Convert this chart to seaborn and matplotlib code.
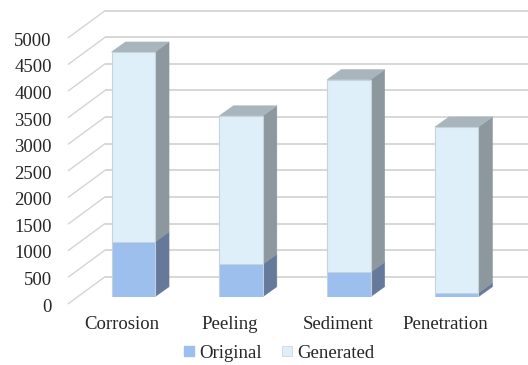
import matplotlib
matplotlib.use("Agg")
import matplotlib.pyplot as plt
from matplotlib.patches import Polygon
from matplotlib.lines import Line2D
from matplotlib.transforms import ScaledTranslation
import numpy as np
import seaborn as sns

# Sample counts per defect class
categories = ["Corrosion", "Peeling", "Sediment", "Penetration"]
original = [1030, 610, 460, 70]
generated = [3570, 2790, 3620, 3120]
y_ticks = list(range(0, 5001, 500))

ORIG_FRONT = "#9DBFEE"
ORIG_SIDE = "#66799B"
GEN_FRONT = "#DEEFF9"
GEN_SIDE = "#8C989E"
TOP = "#A8B5BC"
GRID = "#D4D4D4"
EDGE = "#C8D2D9"

sns.set_theme(style="white")
plt.rcParams["font.family"] = ["Liberation Serif", "DejaVu Serif"]
FS = 13.5

DPI = 100
fig = plt.figure(figsize=(5.28, 3.65), dpi=DPI)
ax = fig.add_axes([79.4 / 528, 68.3 / 365, 431.2 / 528, 266 / 365])
ax.set_xlim(-0.5, 3.5)
ax.set_ylim(0, 5000)

# data units per pixel
PX_X = 4.0 / 431.2
PX_Y = 5000 / 266.0

totals = np.array(original) + np.array(generated)
bar_w = 0.403

sns.barplot(x=categories, y=totals, color=GEN_FRONT, saturation=1, width=bar_w,
            edgecolor=EDGE, linewidth=0.8, ax=ax, zorder=3)
sns.barplot(x=categories, y=original, color=ORIG_FRONT, saturation=1, width=bar_w,
            edgecolor=EDGE, linewidth=0.6, ax=ax, zorder=3)

# depth of the extruded bars
dx, dy = 14 * PX_X, 10 * PX_Y
for patch, orig_v, tot_v in zip(ax.patches[:4], original, totals):
    xl = patch.get_x()
    xr = xl + patch.get_width()
    faces = [
        ([(xr, 0), (xr + dx, dy), (xr + dx, orig_v + dy), (xr, orig_v)], ORIG_SIDE),
        ([(xr, orig_v), (xr + dx, orig_v + dy), (xr + dx, tot_v + dy), (xr, tot_v)], GEN_SIDE),
        ([(xl, tot_v), (xl + dx, tot_v + dy), (xr + dx, tot_v + dy), (xr, tot_v)], TOP),
    ]
    for pts, col in faces:
        ax.add_patch(Polygon(pts, closed=True, facecolor=col, edgecolor=col,
                             linewidth=0.4, zorder=2.5, clip_on=False))

# back wall and side wall grid
back_x0 = -0.5 + (105 - 79.4) * PX_X
back_x1 = -0.5 + (528 - 79.4) * PX_X
front_x = -0.5 + (68.3 - 79.4) * PX_X
back_up = 20 * PX_Y
front_down = 7 * PX_Y
for v in y_ticks:
    ax.plot([back_x0, back_x1], [v + back_up, v + back_up], color=GRID, lw=1.3,
            zorder=1, clip_on=False, solid_capstyle="butt")
    ax.plot([front_x, back_x0], [v - front_down, v + back_up], color=GRID, lw=1.0,
            zorder=1, clip_on=False)

for s in ax.spines.values():
    s.set_visible(False)
ax.set_xlabel("")
ax.set_ylabel("")
ax.set_yticks(y_ticks)
ax.set_yticklabels([str(v) for v in y_ticks], fontsize=FS)
ax.tick_params(axis="y", length=0, pad=19.9)
ax.tick_params(axis="x", length=0, pad=14, labelsize=FS)

for lab in ax.get_yticklabels():
    lab.set_transform(lab.get_transform() + ScaledTranslation(0, -8.5 / DPI, fig.dpi_scale_trans))
for lab in ax.get_xticklabels():
    lab.set_transform(lab.get_transform() + ScaledTranslation(-11 / DPI, 0, fig.dpi_scale_trans))

handles = [
    Line2D([], [], marker="s", linestyle="none", markersize=7, markerfacecolor=ORIG_FRONT,
           markeredgecolor=ORIG_FRONT, label="Original"),
    Line2D([], [], marker="s", linestyle="none", markersize=7, markerfacecolor=GEN_FRONT,
           markeredgecolor=EDGE, markeredgewidth=0.5, label="Generated"),
]
fig.legend(handles=handles, loc="center", bbox_to_anchor=(279 / 528, 12 / 365), ncol=2,
           frameon=False, fontsize=FS, handlelength=0.6, handletextpad=0.25,
           columnspacing=1.0, borderpad=0)

fig.savefig("out.png", dpi=DPI)
